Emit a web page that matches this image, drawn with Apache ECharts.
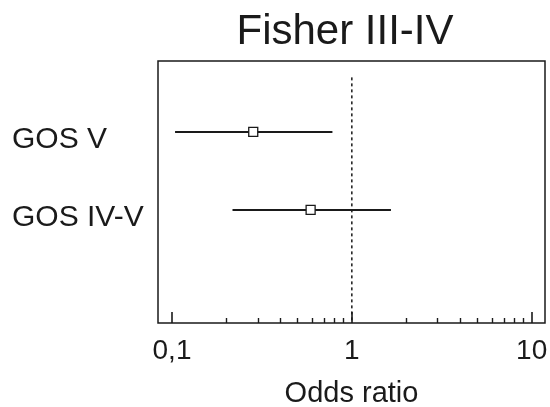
<!DOCTYPE html>
<html>
<head>
<meta charset="utf-8">
<script src="https://cdn.jsdelivr.net/npm/echarts@6/dist/echarts.min.js"></script>
<style>
  html, body { margin: 0; padding: 0; background: #fff; }
  #main { width: 550px; height: 407px; }
</style>
</head>
<body>
<div id="main"></div>
<script>
// rows of the forest plot, top to bottom
const groups = ['GOS V', 'GOS IV-V'];
const rowPos = [1, 2];
const labelPos = [1.1, 2.1]; // row names sit a little below their lines
const oddsRatio = [0.283, 0.59];
const ciLow = [0.104, 0.217];
const ciHigh = [0.78, 1.65];

// axis ranges and ticks
const xRange = [0.0836, 11.86];
const yRange = [0.09, 3.45];
const majorTicks = [0.1, 1, 10];
const minorTicks = [0.2, 0.3, 0.4, 0.5, 0.6, 0.7, 0.8, 0.9, 2, 3, 4, 5, 6, 7, 8, 9];
const refLine = [[1, 0.3], [1, 3.45]];

const font = '"Liberation Sans", Arial, sans-serif';
const ink = '#1a1a1a';

const chart = echarts.init(document.getElementById('main'));

const ciSeries = groups.map((g, i) => ({
    name: g,
    type: 'line',
    symbol: 'none',
    silent: true,
    lineStyle: { color: ink, width: 2 },
    data: [[ciLow[i], rowPos[i]], [ciHigh[i], rowPos[i]]],
    z: 3
}));

chart.setOption({
    animation: false,
    title: {
        text: 'Fisher III-IV',
        left: 340,
        top: 6,
        textAlign: 'center',
        textStyle: { fontFamily: font, fontSize: 42, fontWeight: 'normal', color: ink }
    },
    grid: {
        left: 158,
        right: 5,
        top: 61,
        bottom: 84,
        show: true,
        borderColor: ink,
        borderWidth: 1.5,
        containLabel: false,
        outerBoundsMode: 'none'
    },
    xAxis: [
        {
            type: 'log',
            logBase: 10,
            min: xRange[0],
            max: xRange[1],
            name: 'Odds ratio',
            nameLocation: 'middle',
            nameGap: 56,
            nameTextStyle: { fontFamily: font, fontSize: 29, color: ink },
            axisLine: { show: false },
            splitLine: { show: false },
            axisTick: {
                show: true,
                inside: true,
                length: 11,
                customValues: majorTicks,
                lineStyle: { color: ink, width: 1.6 }
            },
            axisLabel: {
                show: true,
                customValues: majorTicks,
                margin: 14,
                fontFamily: font,
                fontSize: 28,
                color: ink,
                formatter: v => String(v).replace('.', ',')
            }
        },
        {
            type: 'log',
            logBase: 10,
            min: xRange[0],
            max: xRange[1],
            position: 'bottom',
            axisLine: { show: false },
            splitLine: { show: false },
            axisLabel: { show: false },
            axisTick: {
                show: true,
                inside: true,
                length: 5,
                customValues: minorTicks,
                lineStyle: { color: ink, width: 1.4 }
            }
        }
    ],
    yAxis: {
        type: 'value',
        inverse: true,
        min: yRange[0],
        max: yRange[1],
        axisLine: { show: false },
        axisTick: { show: false },
        splitLine: { show: false },
        axisLabel: {
            show: true,
            customValues: labelPos,
            align: 'left',
            margin: 146,
            fontFamily: font,
            fontSize: 30,
            color: ink,
            formatter: v => groups[labelPos.indexOf(v)] || ''
        }
    },
    series: [
        {
            name: 'ref',
            type: 'line',
            symbol: 'none',
            silent: true,
            lineStyle: { color: ink, width: 1.5, type: [3, 3] },
            data: refLine,
            z: 2
        },
        ...ciSeries,
        {
            name: 'OR',
            type: 'scatter',
            symbol: 'rect',
            symbolSize: 9,
            silent: true,
            itemStyle: { color: '#fff', borderColor: ink, borderWidth: 1.3, opacity: 1 },
            data: oddsRatio.map((v, i) => [v, rowPos[i]]),
            z: 5
        }
    ]
});

window.addEventListener('resize', () => chart.resize());
</script>
</body>
</html>
